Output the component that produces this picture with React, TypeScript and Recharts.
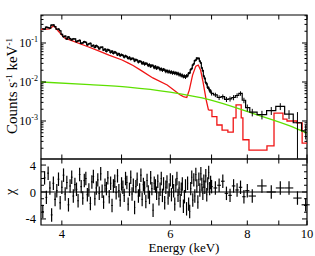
import React from 'react'
import {
  ComposedChart,
  Line,
  Scatter,
  XAxis,
  YAxis,
  ErrorBar,
  ReferenceArea,
  ReferenceLine,
} from 'recharts'

const SERIF = '"Liberation Serif", "Times New Roman", serif'
const RED = '#f01414'
const GREEN = '#5ee000'

// plot frame (px)
const LEFT = 41
const RIGHT = 307
const TOP = 15
const MID = 159
const BOTTOM = 225

const E_MIN = 3.7
const E_MAX = 10
const Y_MIN = 1.06e-4
const Y_MAX = 0.522
const R_MIN = -4.9
const R_MAX = 4.9

// bin centres (keV)
const energy = [
  3.725, 3.75, 3.775, 3.8, 3.825, 3.85, 3.875, 3.9, 3.925, 3.95,
  3.975, 4.0, 4.025, 4.05, 4.075, 4.1, 4.125, 4.15, 4.175, 4.2,
  4.225, 4.25, 4.275, 4.3, 4.325, 4.35, 4.375, 4.4, 4.425, 4.45,
  4.475, 4.5, 4.525, 4.55, 4.575, 4.6, 4.625, 4.65, 4.675, 4.7,
  4.725, 4.75, 4.775, 4.8, 4.825, 4.85, 4.875, 4.9, 4.925, 4.95,
  4.975, 5.0, 5.025, 5.05, 5.075, 5.1, 5.125, 5.15, 5.175, 5.2,
  5.225, 5.25, 5.275, 5.3, 5.325, 5.35, 5.375, 5.4, 5.425, 5.45,
  5.475, 5.5, 5.525, 5.55, 5.575, 5.6, 5.625, 5.65, 5.675, 5.7,
  5.725, 5.75, 5.775, 5.8, 5.825, 5.85, 5.875, 5.9, 5.925, 5.95,
  5.975, 6.0,
  6.025, 6.05, 6.075, 6.1, 6.125, 6.15, 6.175, 6.2, 6.225, 6.25,
  6.275, 6.3, 6.325, 6.35, 6.375, 6.4, 6.425, 6.45, 6.475, 6.5,
  6.525, 6.55, 6.575, 6.6, 6.625, 6.65, 6.675, 6.7, 6.725, 6.75,
  6.775, 6.8, 6.825, 6.85, 6.875, 6.9, 6.925, 6.95, 6.975, 7.0,
  7.1, 7.2, 7.3, 7.4, 7.5, 7.6, 7.7, 7.8, 7.9, 8.0,
  8.15, 8.45, 8.75, 9.05, 9.35, 9.65, 9.95,
]

// counts s-1 keV-1
const counts = [
  0.232, 0.226, 0.254, 0.249, 0.24, 0.287, 0.29, 0.263, 0.226, 0.228,
  0.206, 0.167, 0.145, 0.15, 0.126, 0.143, 0.13, 0.12, 0.128, 0.127,
  0.108, 0.113, 0.117, 0.098, 0.101, 0.108, 0.104, 0.089, 0.095, 0.098,
  0.083, 0.087, 0.077, 0.086, 0.08, 0.071, 0.077, 0.078, 0.066, 0.07,
  0.061, 0.068, 0.065, 0.057, 0.062, 0.0542, 0.0589, 0.0561, 0.0497, 0.0533,
  0.0471, 0.0503, 0.0482, 0.0431, 0.0468, 0.0447, 0.0401, 0.0428, 0.0381, 0.0402,
  0.0395, 0.0348, 0.0374, 0.0361, 0.0322, 0.0341, 0.0335, 0.0296, 0.0318, 0.0281,
  0.0302, 0.0293, 0.0262, 0.0279, 0.0249, 0.0267, 0.0261, 0.0231, 0.025, 0.0221,
  0.0238, 0.0229, 0.0206, 0.0219, 0.0197, 0.0211, 0.0204, 0.0183, 0.0197, 0.0178,
  0.0191, 0.0174,
  0.0183, 0.0168, 0.0178, 0.0165, 0.0174, 0.016, 0.0168, 0.0151, 0.0159, 0.0144,
  0.0151, 0.0136, 0.0144, 0.0131, 0.0146, 0.0143, 0.0167, 0.0172, 0.0208, 0.0221,
  0.027, 0.0292, 0.0351, 0.0363, 0.0411, 0.0399, 0.0405, 0.0343, 0.0309, 0.0231,
  0.0195, 0.0142, 0.0124, 0.0097, 0.0089, 0.0073, 0.007, 0.006, 0.0059, 0.0051,
  0.0047, 0.004, 0.0042, 0.0036, 0.0037, 0.004, 0.0045, 0.0051, 0.0034, 0.0022,
  0.00168, 0.00146, 0.00185, 0.00238, 0.0015, 0.0009, 0.00056,
]

// fractional 1-sigma errors
const countErr = [
  0.045, 0.045, 0.045, 0.045, 0.045, 0.045, 0.045, 0.045, 0.045, 0.045,
  0.05, 0.05, 0.05, 0.05, 0.05, 0.05, 0.05, 0.05, 0.05, 0.05,
  0.055, 0.055, 0.055, 0.055, 0.055, 0.055, 0.055, 0.055, 0.055, 0.055,
  0.06, 0.06, 0.06, 0.06, 0.06, 0.06, 0.06, 0.06, 0.06, 0.06,
  0.065, 0.065, 0.065, 0.065, 0.065, 0.065, 0.065, 0.065, 0.065, 0.065,
  0.07, 0.07, 0.07, 0.07, 0.07, 0.07, 0.07, 0.07, 0.07, 0.07,
  0.075, 0.075, 0.075, 0.075, 0.075, 0.075, 0.075, 0.075, 0.075, 0.075,
  0.08, 0.08, 0.08, 0.08, 0.08, 0.08, 0.08, 0.08, 0.08, 0.08,
  0.085, 0.085, 0.085, 0.085, 0.085, 0.085, 0.085, 0.085, 0.085, 0.085,
  0.085, 0.085,
  0.09, 0.09, 0.09, 0.09, 0.09, 0.09, 0.09, 0.09, 0.09, 0.09,
  0.09, 0.09, 0.09, 0.09, 0.09, 0.085, 0.08, 0.075, 0.07, 0.065,
  0.06, 0.06, 0.06, 0.06, 0.06, 0.06, 0.06, 0.06, 0.06, 0.065,
  0.07, 0.075, 0.08, 0.085, 0.09, 0.095, 0.1, 0.11, 0.11, 0.12,
  0.13, 0.14, 0.14, 0.15, 0.15, 0.15, 0.14, 0.13, 0.16, 0.2,
  0.22, 0.25, 0.23, 0.2, 0.26, 0.88, 0.4,
]

// chi residuals
const residual = [
  -2.9, 2.1, -0.8, 2.8, 0.6, -3.4, 1.3, -1.1, 0.2, 1.9,
  -1.6, 0.7, 2.5, -0.3, 1.4, -1.9, 0.9, 2.2, -0.6, 1.1,
  0.4, -1.3, 2.6, 0.8, -0.9, 1.7, 2.0, -0.4, 0.3, -1.7,
  1.5, 2.3, -1.0, 0.6, 1.8, -0.2, 2.7, 0.1, -1.5, 1.0,
  0.5, 2.1, -0.7, 1.3, -2.0, 0.9, 1.6, -0.1, 2.4, 0.2,
  -1.2, 1.2, 0.7, -0.5, 2.0, 1.4, -1.8, 0.4, 2.2, -0.3,
  1.0, -2.3, 0.8, 1.9, -0.6, 0.3, 2.5, -1.1, 1.1, 0.6,
  -1.4, 1.7, 0.0, -0.8, 2.1, 0.5, -2.7, 1.3, 0.9, -0.2,
  1.6, -1.0, 0.4, 2.0, -0.5, 1.2, -1.6, 0.7, 1.5, -0.9,
  0.3, 1.8,
  -0.4, 1.5, 0.2, -1.8, 1.0, 2.0, -0.5, 0.6, -1.3, 0.4,
  1.2, -2.1, -0.7, 0.9, -2.5, 1.3, -1.8, -2.9, 0.5, 2.2,
  -1.2, 1.8, -0.6, 2.6, 0.9, -1.5, 1.9, 0.3, 2.7, 1.1,
  -0.2, 1.6, 0.7, 2.4, -0.4, 1.2, 2.9, 0.5, 1.4, 0.8,
  0.6, 1.0, 1.6, -0.2, -0.5, 0.9, 0.3, 0.7, -0.7, 0.2,
  -0.6, 0.9, 0.0, 0.6, 0.6, -0.9, -1.9,
]

// model line component (red)
const modelSmoothE = [
  3.7, 3.82, 3.88, 3.95, 4.04, 4.13, 4.41, 4.6, 4.77, 5.01, 5.12, 5.22, 5.36,
  5.62, 5.93, 6.22, 6.3, 6.38, 6.44, 6.52, 6.6, 6.66, 6.72, 6.78, 6.86, 6.92,
]
const modelSmoothV = [
  0.224, 0.23, 0.278, 0.2, 0.135, 0.119, 0.08, 0.062, 0.049, 0.0366, 0.031, 0.0265, 0.0205,
  0.0127, 0.0084, 0.0047, 0.0042, 0.004, 0.0062, 0.015, 0.0255, 0.0272, 0.02, 0.01, 0.0035, 0.0019,
]
const modelStepE = [6.92, 7.01, 7.14, 7.28, 7.44, 7.59, 7.67, 7.82, 7.87, 8.05, 8.61, 8.84, 9.14, 9.28, 9.63, 9.82, 10.0]
const modelStepV = [
  0.0019, 0.00129, 0.00079, 0.00058, 0.00052, 0.0012, 0.00258, 0.0012, 0.00033, 0.00018,
  0.00023, 0.0016, 0.00112, 0.001, 0.00089, 0.00027, 0.00027,
]

// continuum (green)
const contE = [3.7, 4.44, 5.12, 5.99, 6.96, 8.23, 9.38, 10.0]
const contV = [0.01, 0.0086, 0.0074, 0.0055, 0.0035, 0.00151, 0.00075, 0.00049]

const xTicks = [4, 5, 6, 7, 8, 9, 10]
const xLabels = [4, 6, 8, 10]
const yTicksTop = [
  2e-4, 3e-4, 4e-4, 5e-4, 6e-4, 7e-4, 8e-4, 9e-4,
  1e-3, 2e-3, 3e-3, 4e-3, 5e-3, 6e-3, 7e-3, 8e-3, 9e-3,
  1e-2, 2e-2, 3e-2, 4e-2, 5e-2, 6e-2, 7e-2, 8e-2, 9e-2,
  0.1, 0.2, 0.3, 0.4, 0.5,
]
const resTicks = [-4, -3, -2, -1, 0, 1, 2, 3, 4]
const resLabels = [-4, 0, 4]

const specData = energy.map((e, i) => ({ e, c: counts[i], err: counts[i] * countErr[i] }))
const resData = energy.map((e, i) => {
  const lo = i > 0 ? energy[i - 1] : e - (energy[1] - energy[0])
  const hi = i < energy.length - 1 ? energy[i + 1] : e + (e - energy[i - 1])
  return { e, r: residual[i], ey: 1, ex: (hi - lo) / 4 }
})
const modelSmooth = modelSmoothE.map((e, i) => ({ e, v: modelSmoothV[i] }))
const modelStep = modelStepE.map((e, i) => ({ e, v: modelStepV[i] }))
const cont = contE.map((e, i) => ({ e, v: contV[i] }))

function XTick({ x, y, payload, span, labels }: any) {
  const len = 4.5
  const show = labels && xLabels.includes(payload.value)
  return (
    <g>
      <line x1={x} x2={x} y1={y} y2={y - len} stroke="#000" />
      <line x1={x} x2={x} y1={y - span} y2={y - span + len} stroke="#000" />
      {show && (
        <text x={x} y={y + 12.5} textAnchor="middle" fontSize={12.5} fontFamily={SERIF} fill="#000">
          {payload.value}
        </text>
      )}
    </g>
  )
}

function LogYTick({ x, y, payload }: any) {
  const v = payload.value
  const lg = Math.log10(v)
  const major = Math.abs(lg - Math.round(lg)) < 1e-6
  const len = major ? 5 : 2.5
  const span = RIGHT - LEFT
  return (
    <g>
      <line x1={x} x2={x + len} y1={y} y2={y} stroke="#000" />
      <line x1={x + span} x2={x + span - len} y1={y} y2={y} stroke="#000" />
      {major && (
        <text x={x - 3} y={y + 4} textAnchor="end" fontSize={12} fontFamily={SERIF} fill="#000">
          10<tspan dy={-5} fontSize={8}>{String(Math.round(lg))}</tspan>
        </text>
      )}
    </g>
  )
}

function ResYTick({ x, y, payload }: any) {
  const major = resLabels.includes(payload.value)
  const len = major ? 5 : 3
  const span = RIGHT - LEFT
  return (
    <g>
      <line x1={x} x2={x + len} y1={y} y2={y} stroke="#000" />
      <line x1={x + span} x2={x + span - len} y1={y} y2={y} stroke="#000" />
      {major && (
        <text x={x - 5} y={y + 4.5} textAnchor="end" fontSize={12.5} fontFamily={SERIF} fill="#000">
          {payload.value}
        </text>
      )}
    </g>
  )
}

export default function App() {
  return (
    <div style={{ position: 'fixed', left: 0, top: 0, width: 315, height: 256, background: '#fff' }}>
      <div style={{ position: 'absolute', left: 0, top: 0 }}>
        <ComposedChart width={315} height={MID + 1} margin={{ top: TOP, right: 315 - RIGHT, bottom: 0, left: 0 }}>
          <XAxis
            type="number"
            dataKey="e"
            scale="log"
            domain={[E_MIN, E_MAX]}
            allowDataOverflow
            ticks={xTicks}
            interval={0}
            height={1}
            tickSize={0}
            tickMargin={0}
            axisLine={false}
            tickLine={false}
            tick={(p: any) => <XTick {...p} span={MID - TOP} labels={false} />}
          />
          <YAxis
            type="number"
            scale="log"
            domain={[Y_MIN, Y_MAX]}
            allowDataOverflow
            ticks={yTicksTop}
            interval={0}
            width={LEFT}
            tickSize={0}
            tickMargin={0}
            axisLine={false}
            tickLine={false}
            tick={(p: any) => <LogYTick {...p} />}
          />
          <Line data={modelSmooth} dataKey="v" type="linear" stroke={RED} strokeWidth={1.3} dot={false} activeDot={false} isAnimationActive={false} />
          <Line data={modelStep} dataKey="v" type="stepAfter" stroke={RED} strokeWidth={1.3} dot={false} activeDot={false} isAnimationActive={false} />
          <Line data={cont} dataKey="v" type="monotone" stroke={GREEN} strokeWidth={1.3} dot={false} activeDot={false} isAnimationActive={false} />
          <Line data={specData} dataKey="c" type="step" stroke="#000" strokeWidth={1.2} dot={false} activeDot={false} isAnimationActive={false}>
            <ErrorBar dataKey="err" direction="y" width={0} stroke="#000" strokeWidth={1} />
          </Line>
          <ReferenceArea x1={E_MIN} x2={E_MAX} y1={Y_MIN} y2={Y_MAX} fill="none" stroke="#000" strokeWidth={1.2} />
        </ComposedChart>
      </div>
      <div style={{ position: 'absolute', left: 0, top: 150 }}>
        <ComposedChart width={315} height={106} margin={{ top: MID - 150, right: 315 - RIGHT, bottom: 0, left: 0 }}>
          <XAxis
            type="number"
            dataKey="e"
            scale="log"
            domain={[E_MIN, E_MAX]}
            allowDataOverflow
            ticks={xTicks}
            interval={0}
            height={256 - BOTTOM}
            tickSize={0}
            tickMargin={0}
            axisLine={false}
            tickLine={false}
            tick={(p: any) => <XTick {...p} span={BOTTOM - MID} labels />}
          />
          <YAxis
            type="number"
            dataKey="r"
            domain={[R_MIN, R_MAX]}
            allowDataOverflow
            ticks={resTicks}
            interval={0}
            width={LEFT}
            tickSize={0}
            tickMargin={0}
            axisLine={false}
            tickLine={false}
            tick={(p: any) => <ResYTick {...p} />}
          />
          <ReferenceLine y={0} stroke="#000" strokeWidth={1} />
          <Scatter data={resData} dataKey="r" shape={() => <g />} isAnimationActive={false}>
            <ErrorBar dataKey="ey" direction="y" width={0} stroke="#000" strokeWidth={1.2} />
            <ErrorBar dataKey="ex" direction="x" width={0} stroke="#000" strokeWidth={1.1} />
          </Scatter>
          <ReferenceArea x1={E_MIN} x2={E_MAX} y1={R_MIN} y2={R_MAX} fill="none" stroke="#000" strokeWidth={1.2} />
        </ComposedChart>
      </div>
      <svg width={315} height={256} style={{ position: 'absolute', left: 0, top: 0, pointerEvents: 'none' }}>
        <text transform="translate(17,86) rotate(-90)" textAnchor="middle" fontSize={15} fontFamily={SERIF} fill="#000">
          Counts s<tspan dy={-5} fontSize={9}>-1</tspan>
          <tspan dy={5}> keV</tspan>
          <tspan dy={-5} fontSize={9}>-1</tspan>
        </text>
        <text transform="translate(15,192) rotate(-90)" textAnchor="middle" fontSize={14} fontFamily={SERIF} fill="#000">
          χ
        </text>
        <text x={184} y={252} textAnchor="middle" fontSize={13} fontFamily={SERIF} fill="#000">
          Energy (keV)
        </text>
      </svg>
    </div>
  )
}
